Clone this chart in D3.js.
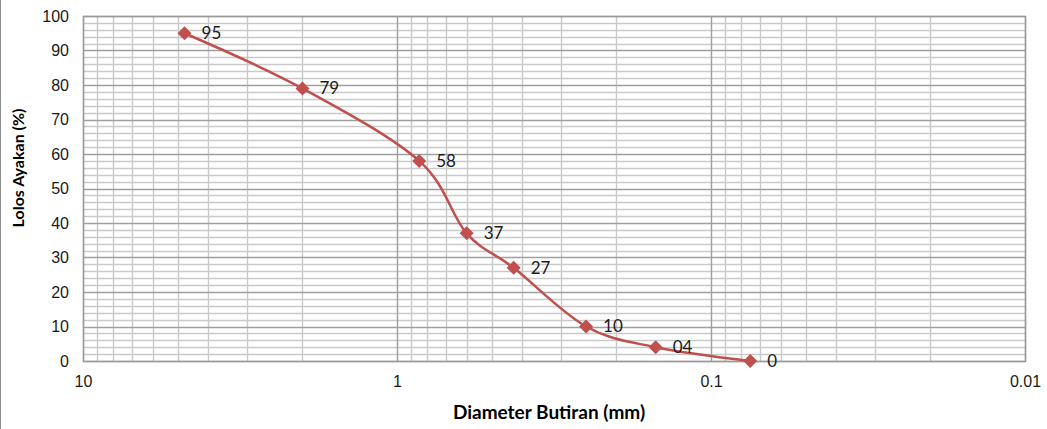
<!DOCTYPE html>
<html>
<head>
<meta charset="utf-8">
<script src="https://cdn.jsdelivr.net/npm/d3@7"></script>
<style>
  body { margin: 0; background: #fff; }
  svg { display: block; font-family: Lato, "Open Sans", sans-serif; }
</style>
</head>
<body>
<div id="chart"></div>
<script>
// sieve sizes (mm) and percent passing
const diameters = [4.75, 2.0, 0.85, 0.6, 0.425, 0.25, 0.15, 0.075];
const passing = [95, 79, 58, 37, 27, 10, 4, 0];
const pointLabels = ['95', '79', '58', '37', '27', '10', '04', '0'];
const xTicks = [10, 1, 0.1, 0.01];
const xTickLabels = ['10', '1', '0.1', '0.01'];
const yTicks = [0, 10, 20, 30, 40, 50, 60, 70, 80, 90, 100];

const width = 1047;
const height = 429;
const margin = { top: 16, right: 22, bottom: 68, left: 83 };
const innerW = width - margin.left - margin.right;
const innerH = height - margin.top - margin.bottom;

const svg = d3.select('#chart').append('svg')
  .attr('width', width)
  .attr('height', height);

// outer chart border (left edge visible)
svg.append('line')
  .attr('x1', 0.5).attr('x2', 0.5)
  .attr('y1', 0).attr('y2', height)
  .attr('stroke', '#8c8c8c');

const x = d3.scaleLog().domain([10, 0.01]).range([0, innerW]);
const y = d3.scaleLinear().domain([0, 100]).range([innerH, 0]);

const g = svg.append('g').attr('transform', `translate(${margin.left},${margin.top})`);

// minor vertical grid (2..9 in each decade)
const minorX = [];
[1, 0.1, 0.01].forEach(dec => {
  for (let k = 2; k <= 9; k++) minorX.push(dec * k);
});
g.append('g').selectAll('line')
  .data(minorX)
  .join('line')
  .attr('x1', d => Math.round(x(d)) + 0.5)
  .attr('x2', d => Math.round(x(d)) + 0.5)
  .attr('y1', 0).attr('y2', innerH)
  .attr('stroke', '#c9c9c9')
  .attr('stroke-width', 1.4);

// minor horizontal grid every 2
const minorY = d3.range(0, 101, 2).filter(v => v % 10 !== 0);
g.append('g').selectAll('line')
  .data(minorY)
  .join('line')
  .attr('x1', 0).attr('x2', innerW)
  .attr('y1', d => Math.round(y(d)) + 0.5)
  .attr('y2', d => Math.round(y(d)) + 0.5)
  .attr('stroke', '#c9c9c9')
  .attr('stroke-width', 1.4);

// major grid
g.append('g').selectAll('line')
  .data(yTicks)
  .join('line')
  .attr('x1', 0).attr('x2', innerW)
  .attr('y1', d => Math.round(y(d)) + 0.5)
  .attr('y2', d => Math.round(y(d)) + 0.5)
  .attr('stroke', '#9f9f9f')
  .attr('stroke-width', 1.4);

g.append('g').selectAll('line')
  .data(xTicks)
  .join('line')
  .attr('x1', d => Math.round(x(d)) + 0.5)
  .attr('x2', d => Math.round(x(d)) + 0.5)
  .attr('y1', 0).attr('y2', innerH)
  .attr('stroke', '#9f9f9f')
  .attr('stroke-width', 1.4);

// plot border
g.append('rect')
  .attr('x', 0.5).attr('y', 0.5)
  .attr('width', innerW).attr('height', innerH)
  .attr('fill', 'none')
  .attr('stroke', '#9a9a9a')
  .attr('stroke-width', 1.4);

// axes
const yAxis = d3.axisLeft(y).tickValues(yTicks).tickSize(0).tickPadding(14);
const gy = g.append('g').call(yAxis);
gy.select('.domain').remove();
gy.selectAll('text').attr('font-size', 16).attr('fill', '#1a1a1a');

const xAxis = d3.axisBottom(x).tickValues(xTicks)
  .tickFormat((d, i) => xTickLabels[i]).tickSize(0).tickPadding(15);
const gx = g.append('g').attr('transform', `translate(0,${innerH})`).call(xAxis);
gx.select('.domain').remove();
gx.selectAll('text').attr('font-size', 16).attr('fill', '#1a1a1a');

// series
const pts = diameters.map((d, i) => ({ d, p: passing[i], label: pointLabels[i] }));
const line = d3.line()
  .x(d => x(d.d))
  .y(d => y(d.p))
  .curve(d3.curveCardinal.tension(0));

g.append('path')
  .datum(pts)
  .attr('d', line)
  .attr('fill', 'none')
  .attr('stroke', '#c0504d')
  .attr('stroke-width', 2.5);

g.append('g').selectAll('path')
  .data(pts)
  .join('path')
  .attr('transform', d => `translate(${x(d.d)},${y(d.p)})`)
  .attr('d', 'M0,-7L7,0L0,7L-7,0Z')
  .attr('fill', '#c0504d');

g.append('g').selectAll('text')
  .data(pts)
  .join('text')
  .attr('x', d => x(d.d) + 17)
  .attr('y', d => y(d.p))
  .attr('dy', '0.35em')
  .attr('font-size', 17)
  .attr('fill', '#1a1a1a')
  .text(d => d.label);

// axis titles
svg.append('text')
  .attr('transform', 'translate(24,168) rotate(-90)')
  .attr('text-anchor', 'middle')
  .attr('font-size', 16)
  .attr('font-weight', 'bold')
  .text('Lolos Ayakan (%)');

svg.append('text')
  .attr('x', 549)
  .attr('y', 419)
  .attr('text-anchor', 'middle')
  .attr('font-size', 19)
  .attr('font-weight', 'bold')
  .text('Diameter Butiran (mm)');
</script>
</body>
</html>
